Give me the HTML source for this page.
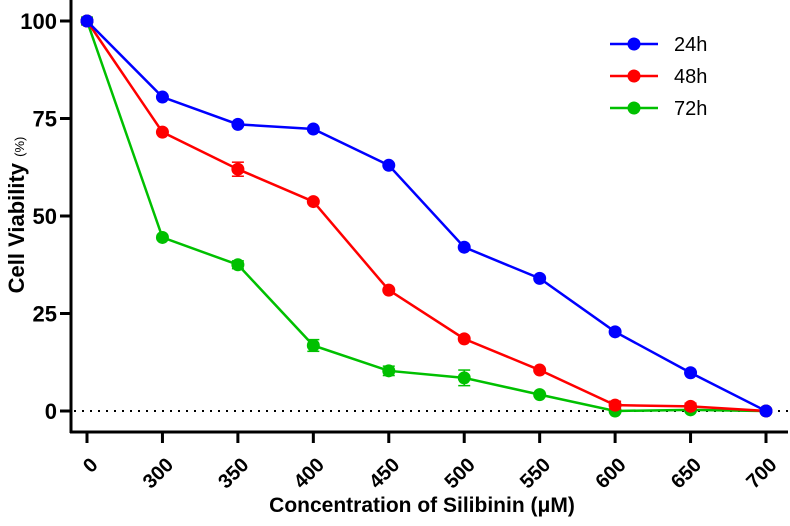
<!DOCTYPE html>
<html><head><meta charset="utf-8"><style>
body{margin:0;background:#fff;font-family:"Liberation Sans",Arial,sans-serif}
svg text{font-family:"Liberation Sans",Arial,sans-serif;font-weight:bold}
</style></head><body>
<svg id="chart" width="790" height="521" xmlns="http://www.w3.org/2000/svg"></svg>
<script>
const categories=["0","300","350","400","450","500","550","600","650","700"];
const yTicks=[0,25,50,75,100];
const s24=[100,80.5,73.5,72.3,63,42,34,20.3,9.8,0];
const s48=[100,71.5,62,53.7,31,18.5,10.5,1.5,1.2,0];
const s72=[100,44.5,37.5,16.8,10.3,8.5,4.2,0,0.3,0];
const e48=[0,0,1.8,0,0,0,0,1,0.8,0];
const e72=[1,0,1,1.5,1.2,2,0,0,0,0];
const seriesNames=["24h","48h","72h"];
const colors=["#0000ff","#ff0000","#00c000"];
const svg=document.getElementById('chart');const NS="http://www.w3.org/2000/svg";
function X(i){return 87+i*(766-87)/9}
function Y(v){return 411-v*3.9}
function el(t,a,p){const e=document.createElementNS(NS,t);for(const k in a)e.setAttribute(k,a[k]);(p||svg).appendChild(e);return e}
let a=el('line',{x1:71,y1:0,x2:71,y2:433,stroke:'#000','stroke-width':3});


a=el('line',{x1:70,y1:432,x2:788,y2:432,stroke:'#000','stroke-width':3});


a=el('line',{x1:74,y1:Y(0),x2:788,y2:Y(0),stroke:'#000','stroke-width':2,'stroke-dasharray':'2,6'});


yTicks.forEach(v=>{
 el('line',{x1:60,y1:Y(v),x2:71,y2:Y(v),stroke:'#000','stroke-width':3});
 const t=el('text',{x:57,y:Y(v)+8,'text-anchor':'end','font-size':22});t.textContent=v;
 
 
});
categories.forEach((c,i)=>{
 el('line',{x1:X(i),y1:432,x2:X(i),y2:443,stroke:'#000','stroke-width':3});
 const px=X(i)+12,py=466;
 const t=el('text',{x:px,y:py,'text-anchor':'end','font-size':20,transform:`rotate(-45 ${px} ${py})`});t.textContent=c;
 
 
});
let t=el('text',{x:422,y:512,'text-anchor':'middle','font-size':21});t.textContent="Concentration of Silibinin (μM)";


t=el('text',{x:0,y:0,'text-anchor':'middle','font-size':22,transform:'translate(24 215) rotate(-90)'});
t.innerHTML='Cell Viability <tspan font-size="13" font-weight="normal">(%)</tspan>';


const data=[s24,s48,s72],errs=[null,e48,e72];
[2,1,0].forEach(k=>{
 const g=el('g',{});
 
 
 el('polyline',{points:data[k].map((v,i)=>X(i)+','+Y(v)).join(' '),fill:'none',stroke:colors[k],'stroke-width':2.5},g);
 data[k].forEach((v,i)=>{
  if(errs[k]&&errs[k][i]>0){const e=errs[k][i];
   el('line',{x1:X(i),y1:Y(v+e),x2:X(i),y2:Y(v-e),stroke:colors[k],'stroke-width':1.5},g);
   el('line',{x1:X(i)-6,y1:Y(v+e),x2:X(i)+6,y2:Y(v+e),stroke:colors[k],'stroke-width':1.5},g);
   el('line',{x1:X(i)-6,y1:Y(v-e),x2:X(i)+6,y2:Y(v-e),stroke:colors[k],'stroke-width':1.5},g);}
  const c=el('circle',{cx:X(i),cy:Y(v),r:6.5,fill:colors[k]},g);
  
  
 });
});
seriesNames.forEach((n,k)=>{
 const y=44+k*32;const g=el('g',{});
 
 
 el('line',{x1:610,y1:y,x2:658,y2:y,stroke:colors[k],'stroke-width':2.5},g);
 el('circle',{cx:634,cy:y,r:6.5,fill:colors[k]},g);
 const tt=el('text',{x:674,y:y+7,'font-size':20},g);tt.style.fontWeight='normal';tt.textContent=n;
});
</script>
</body></html>
